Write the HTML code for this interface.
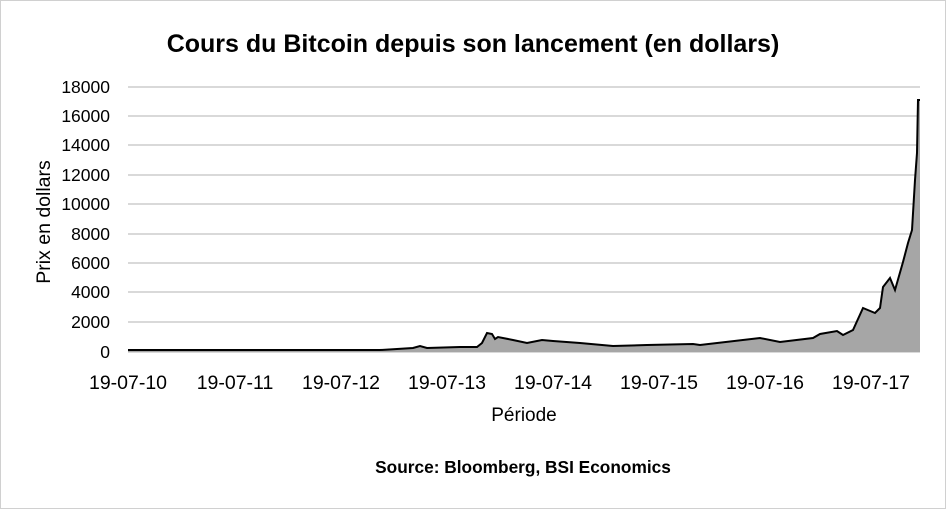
<!DOCTYPE html>
<html><head><meta charset="utf-8"><style>
body{margin:0;background:#fff;}
svg text{font-family:"Liberation Sans",sans-serif;}
</style></head><body>
<svg width="947" height="510" viewBox="0 0 947 510" xmlns="http://www.w3.org/2000/svg">
<rect x="0.5" y="0.5" width="945" height="508" fill="#fff" stroke="#d0d0d0"/>
<text x="473" y="52" text-anchor="middle" font-size="25" font-weight="bold" fill="#000">Cours du Bitcoin depuis son lancement (en dollars)</text>
<g stroke="#d9d9d9" stroke-width="2">
<line x1="128" x2="920" y1="87" y2="87"/><line x1="128" x2="920" y1="116" y2="116"/>
<line x1="128" x2="920" y1="145" y2="145"/><line x1="128" x2="920" y1="175" y2="175"/>
<line x1="128" x2="920" y1="204" y2="204"/><line x1="128" x2="920" y1="234" y2="234"/>
<line x1="128" x2="920" y1="263" y2="263"/><line x1="128" x2="920" y1="292" y2="292"/>
<line x1="128" x2="920" y1="322" y2="322"/><line x1="128" x2="920" y1="352" y2="352"/>
</g>
<g font-size="17.5" text-anchor="end" fill="#000">
<text x="110" y="93">18000</text><text x="110" y="122">16000</text><text x="110" y="151">14000</text>
<text x="110" y="181">12000</text><text x="110" y="210">10000</text><text x="110" y="240">8000</text>
<text x="110" y="269">6000</text><text x="110" y="298">4000</text><text x="110" y="328">2000</text>
<text x="110" y="358">0</text>
</g>
<polygon fill="#a6a6a6" points="128,352 128,350 380,350 413,348 420,346 427,348 460,347 477,347 482,343 487,333 492,334 495,339 498,337 513,340 527,343 542,340 553,341 580,343 613,346 647,345 693,344 700,345 760,338 780,342 813,338 820,334 837,331 843,335 853,330 863,308 875,313 880,308 883,287 890,278 895,290 903,262 908,243 912,230 915,180 917,153 918,100 920,100 920,352"/>
<polyline fill="none" stroke="#000" stroke-width="2" points="128,350 380,350 413,348 420,346 427,348 460,347 477,347 482,343 487,333 492,334 495,339 498,337 513,340 527,343 542,340 553,341 580,343 613,346 647,345 693,344 700,345 760,338 780,342 813,338 820,334 837,331 843,335 853,330 863,308 875,313 880,308 883,287 890,278 895,290 903,262 908,243 912,230 915,180 917,153 918,100 920,100"/>
<g font-size="19.5" text-anchor="middle" fill="#000">
<text x="128" y="389">19-07-10</text><text x="235" y="389">19-07-11</text><text x="341" y="389">19-07-12</text>
<text x="447" y="389">19-07-13</text><text x="553" y="389">19-07-14</text><text x="659" y="389">19-07-15</text>
<text x="765" y="389">19-07-16</text><text x="871" y="389">19-07-17</text>
</g>
<text x="524" y="421" text-anchor="middle" font-size="19" fill="#000">Période</text>
<text transform="translate(50,222) rotate(-90)" text-anchor="middle" font-size="19.5" fill="#000">Prix en dollars</text>
<text x="523" y="473" text-anchor="middle" font-size="17.3" font-weight="bold" fill="#000">Source: Bloomberg, BSI Economics</text>
</svg>
</body></html>
